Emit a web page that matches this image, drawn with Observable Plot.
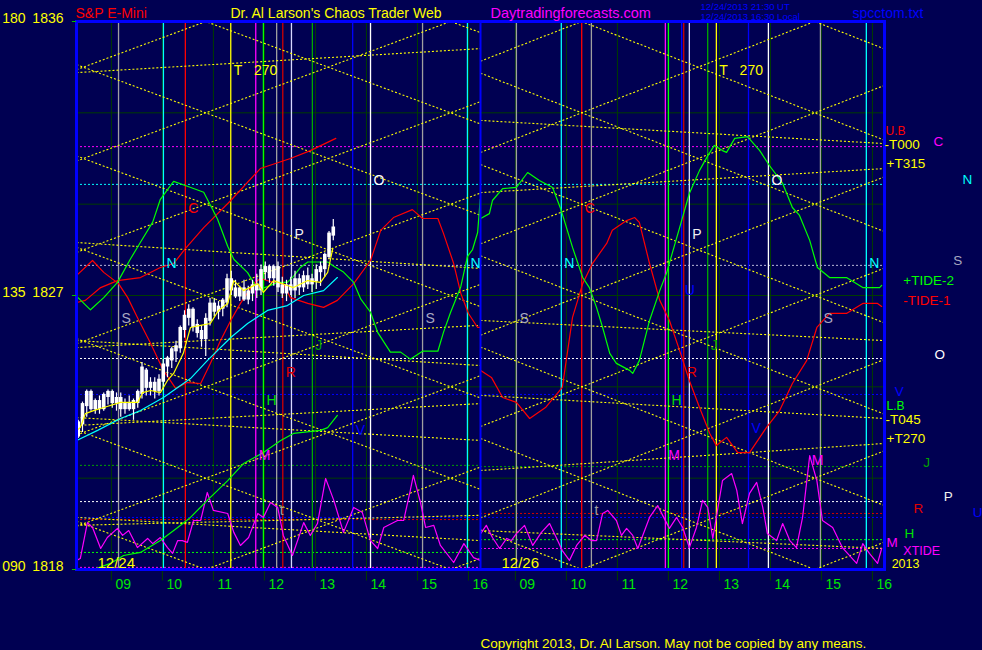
<!DOCTYPE html>
<html><head><meta charset="utf-8">
<script src="https://cdn.jsdelivr.net/npm/d3@7"></script>
<script src="https://cdn.jsdelivr.net/npm/@observablehq/plot@0.6"></script>
<style>html,body{margin:0;padding:0;background:#000052;overflow:hidden}</style>
</head><body><div id="chart"></div>
<script>
// ---------- DATA ----------
const dayNames = ["12/24", "12/26"];
const DAY_START = 8.316, DAY_LEN = 7.92;
const hourTicks = [9, 10, 11, 12, 13, 14, 15, 16];
const hourTickLabels = ["09", "10", "11", "12", "13", "14", "15", "16"];
const priceGrid = [1821, 1824, 1827, 1830, 1833];
const yTickPrices = [1818, 1827, 1836];
const yTickDegrees = ["090", "135", "180"];

// planetary time lines: [day, hour, name]
const verticals = [
  [0, 9.14, "S"], [0, 10.02, "N"], [0, 10.45, "C"], [0, 11.34, "T"], [0, 11.83, "M"],
  [0, 11.98, "H"], [0, 12.24, "t"], [0, 12.36, "R"], [0, 12.53, "P"], [0, 12.94, "J"],
  [0, 13.73, "V"], [0, 14.08, "O"], [0, 15.10, "S"], [0, 15.98, "N"],
  [1, 9.02, "S"], [1, 9.90, "N"], [1, 10.30, "C"], [1, 10.49, "t"], [1, 11.94, "M"],
  [1, 12.00, "H"], [1, 12.26, "U"], [1, 12.30, "R"], [1, 12.41, "P"], [1, 12.77, "J"],
  [1, 12.94, "T"], [1, 13.57, "V"], [1, 13.96, "O"], [1, 14.98, "S"], [1, 15.88, "N"]
];
// letters beside the time lines: [day, hour, price, text]
const vLabels = [
  [0, 9.14, 1826.24, "S"], [0, 10.02, 1828.05, "N"], [0, 10.45, 1829.86, "C"],
  [0, 11.34, 1834.39, "T\u00a0\u00a0\u00a0270"], [0, 11.83, 1821.74, "M"], [0, 11.98, 1823.55, "H"],
  [0, 12.24, 1819.94, "t"], [0, 12.36, 1824.47, "R"], [0, 12.53, 1829.0, "P"], [0, 12.94, 1825.36, "J"],
  [0, 13.73, 1822.57, "V"], [0, 14.08, 1830.78, "O"], [0, 15.10, 1826.24, "S"], [0, 15.98, 1828.05, "N"],
  [1, 9.02, 1826.24, "S"], [1, 9.90, 1828.05, "N"], [1, 10.30, 1829.86, "C"], [1, 10.49, 1819.94, "t"],
  [1, 11.94, 1821.74, "M"], [1, 12.00, 1823.55, "H"], [1, 12.26, 1827.16, "U"], [1, 12.30, 1824.47, "R"],
  [1, 12.41, 1829.0, "P"], [1, 12.77, 1825.36, "J"], [1, 12.94, 1834.39, "T\u00a0\u00a0\u00a0270"],
  [1, 13.57, 1822.63, "V"], [1, 13.96, 1830.78, "O"], [1, 14.75, 1821.58, "M"], [1, 14.98, 1826.24, "S"],
  [1, 15.88, 1828.05, "N"]
];
// horizontal planet price levels: [day, price, name]
const levels = [
  [0, 1831.89, "C"], [1, 1831.89, "C"], [0, 1830.65, "N"], [1, 1830.65, "N"],
  [0, 1827.99, "S"], [1, 1827.99, "S"], [0, 1824.93, "O"], [1, 1824.93, "O"],
  [0, 1823.75, "V"], [1, 1823.75, "V"], [0, 1821.42, "J"], [1, 1821.38, "J"],
  [0, 1820.23, "P"], [1, 1820.23, "P"], [0, 1819.64, "R"], [1, 1819.84, "R"],
  [0, 1819.71, "U"], [1, 1819.71, "U"], [0, 1818.56, "H"], [1, 1818.98, "H"],
  [0, 1818.07, "M"], [1, 1818.69, "M"]
];
// time-price lattice: anchor hour per day, rate in points/hour, levels every 3 points
const latticeAnchors = [[0, 10.85, 0.625], [1, 10.30, 0.657]];
const latticeLevels = [1848, 1845, 1842, 1839, 1836, 1833, 1830, 1827, 1824, 1821, 1818, 1815, 1812, 1809, 1806];
// shallow T lines: [day, price at day start, price at day end]
const tLines = [
  [0, 1834.32, 1835.11], [0, 1828.74, 1827.89], [0, 1825.29, 1826.02], [0, 1825.52, 1824.70],
  [0, 1822.99, 1822.24], [0, 1822.73, 1823.45], [0, 1819.71, 1818.95], [0, 1819.45, 1819.78],
  [1, 1832.75, 1831.99], [1, 1830.38, 1831.17], [1, 1826.18, 1825.52], [1, 1823.72, 1822.96],
  [1, 1821.25, 1822.14], [1, 1819.28, 1818.69]
];

// TIDE-1 (red)
const tide1Next = [[8.32,1826.77],[8.49,1826.84],[8.79,1827.26],[9.12,1827.49],[9.57,1827.59],[9.96,1827.92],[10.22,1828.05],[10.45,1828.54],[10.81,1829.23],[11.34,1830.12],[11.92,1831.17],[12.51,1831.50],[12.90,1831.76],[13.40,1832.16]];
const tide1Day1 = [[8.32,1827.66],[8.63,1828.15],[8.85,1827.76],[9.14,1827.39],[9.32,1826.93],[9.51,1826.28],[9.77,1825.42],[10.02,1824.54],[10.26,1823.95],[10.49,1824.14],[10.75,1824.11],[10.94,1824.77],[11.14,1825.52],[11.34,1826.18],[11.53,1826.74],[11.79,1827.39],[11.92,1827.56],[12.18,1827.43],[12.37,1827.39],[12.51,1826.93],[12.85,1826.74],[13.16,1826.61],[13.43,1826.84],[13.75,1827.39],[14.08,1828.15],[14.28,1829.14],[14.53,1829.56],[14.90,1829.82],[15.10,1829.53],[15.40,1829.53],[15.51,1829.04],[15.71,1828.05],[15.85,1827.07],[16.00,1826.41],[16.18,1825.95],[16.23,1825.95]];
const tide1Day2 = [[8.32,1824.54],[8.53,1824.31],[8.75,1823.65],[9.02,1823.49],[9.28,1822.96],[9.59,1823.32],[9.92,1823.98],[10.12,1826.28],[10.32,1827.39],[10.51,1828.05],[10.79,1828.71],[10.90,1829.14],[11.18,1829.46],[11.34,1829.56],[11.43,1829.40],[11.63,1828.05],[11.83,1826.84],[12.02,1826.18],[12.22,1825.19],[12.41,1824.21],[12.61,1823.32],[12.81,1822.47],[12.94,1822.07],[13.14,1822.34],[13.36,1821.84],[13.59,1821.84],[13.92,1822.66],[14.18,1823.22],[14.43,1824.11],[14.71,1824.86],[14.91,1825.95],[15.16,1826.41],[15.49,1826.41],[15.81,1826.74],[16.10,1826.74],[16.18,1826.64]];
// TIDE-2 (green)
const tide2Day1 = [[8.32,1826.97],[8.59,1826.53],[8.85,1826.93],[9.12,1827.43],[9.37,1828.19],[9.57,1828.75],[9.81,1829.41],[9.96,1830.16],[10.22,1830.75],[10.49,1830.59],[10.81,1830.39],[11.08,1829.51],[11.28,1828.62],[11.40,1828.19],[11.67,1827.75],[11.87,1827.19],[12.06,1827.29],[12.26,1827.43],[12.45,1827.43],[12.57,1827.63],[12.71,1827.93],[12.85,1828.10],[13.04,1828.10],[13.24,1828.10],[13.36,1827.96],[13.55,1827.77],[13.75,1827.43],[13.89,1826.88],[14.08,1826.45],[14.22,1825.79],[14.47,1825.14],[14.67,1825.14],[14.86,1824.91],[15.10,1825.17],[15.40,1825.17],[15.51,1825.79],[15.65,1826.45],[15.85,1827.29],[15.98,1828.28],[16.08,1828.51],[16.18,1829.07],[16.23,1830.16]];
const tide2Day2 = [[8.32,1829.53],[8.49,1829.69],[8.55,1830.12],[8.75,1830.51],[9.02,1830.55],[9.24,1831.04],[9.47,1830.78],[9.73,1830.55],[9.90,1829.79],[10.12,1828.58],[10.32,1827.59],[10.45,1827.26],[10.59,1826.61],[10.71,1825.95],[10.85,1825.10],[10.98,1824.77],[11.24,1824.54],[11.30,1824.44],[11.43,1824.86],[11.63,1826.18],[11.83,1827.16],[11.96,1827.72],[12.22,1829.23],[12.41,1830.35],[12.61,1831.11],[12.75,1831.53],[12.90,1831.93],[13.06,1831.76],[13.14,1831.70],[13.30,1832.16],[13.55,1832.22],[13.79,1831.76],[13.98,1831.27],[14.24,1830.68],[14.43,1829.89],[14.57,1829.63],[14.77,1828.81],[14.92,1827.92],[15.16,1827.59],[15.49,1827.59],[15.81,1827.26],[16.14,1827.26],[16.18,1827.33]];
const lowGreenDay1 = [[8.65,1818.0],[8.98,1818.20],[9.24,1818.46],[9.57,1818.56],[9.96,1818.95],[10.30,1819.38],[10.55,1819.71],[10.88,1820.27],[11.28,1820.92],[11.59,1821.48],[11.98,1821.84],[12.32,1822.24],[12.57,1822.47],[13.10,1822.57],[13.24,1822.66],[13.43,1823.06]];
const cyanAvgDay1 = [[8.32,1822.24],[8.73,1822.57],[9.18,1822.96],[9.57,1823.22],[10.02,1823.65],[10.30,1823.98],[10.55,1824.27],[10.88,1824.86],[11.34,1825.62],[11.67,1826.08],[12.06,1826.51],[12.45,1826.67],[12.77,1827.00],[13.16,1827.16],[13.43,1827.59]];
const yellowAvgDay1 = [[8.32,1822.57],[8.39,1822.66],[8.49,1823.12],[8.65,1823.22],[8.85,1823.32],[9.18,1823.49],[9.52,1823.49],[9.61,1823.81],[9.77,1823.88],[9.96,1823.81],[10.10,1824.21],[10.22,1824.44],[10.41,1825.10],[10.55,1825.95],[10.75,1826.02],[10.94,1826.08],[11.10,1826.51],[11.28,1826.74],[11.40,1827.49],[11.59,1827.16],[11.87,1827.39],[11.98,1827.10],[12.18,1827.49],[12.45,1827.33],[12.57,1827.26],[12.85,1827.49],[13.10,1827.43],[13.24,1827.76],[13.34,1828.54]];
// XTIDE (magenta)
const xtideDay1 = [[8.32,1818.30],[8.39,1818.36],[8.53,1819.54],[8.63,1819.38],[8.79,1818.69],[8.92,1819.05],[9.12,1819.35],[9.22,1819.12],[9.34,1819.28],[9.51,1818.72],[9.71,1819.02],[9.81,1818.85],[9.96,1819.05],[10.10,1818.72],[10.20,1818.53],[10.30,1818.95],[10.39,1818.95],[10.49,1818.89],[10.61,1819.61],[10.75,1819.61],[10.88,1820.53],[11.00,1819.94],[11.28,1819.84],[11.40,1819.22],[11.53,1818.79],[11.69,1819.05],[11.87,1819.84],[11.98,1819.71],[12.12,1820.20],[12.26,1820.04],[12.37,1819.12],[12.55,1818.46],[12.77,1819.54],[12.90,1819.12],[13.04,1819.51],[13.20,1820.99],[13.36,1820.27],[13.55,1819.22],[13.75,1820.04],[13.92,1819.87],[14.08,1818.95],[14.22,1818.69],[14.34,1819.38],[14.61,1819.61],[14.73,1819.61],[14.86,1820.60],[14.92,1821.09],[15.06,1820.20],[15.16,1819.38],[15.32,1819.45],[15.45,1818.79],[15.71,1818.23],[15.91,1818.85],[16.10,1818.39],[16.23,1818.30]];
const xtideDay2 = [[8.32,1819.18],[8.43,1819.45],[8.55,1819.05],[8.69,1818.69],[8.83,1819.02],[8.92,1818.95],[9.02,1819.18],[9.18,1819.45],[9.34,1818.79],[9.51,1819.22],[9.67,1819.51],[9.81,1819.02],[9.92,1818.62],[10.06,1818.30],[10.20,1818.79],[10.36,1819.12],[10.49,1818.95],[10.59,1818.95],[10.71,1819.84],[10.81,1819.94],[10.98,1819.61],[11.08,1819.12],[11.18,1819.35],[11.30,1819.12],[11.40,1818.69],[11.63,1819.71],[11.79,1820.10],[11.89,1819.77],[12.02,1819.35],[12.16,1819.71],[12.28,1819.38],[12.41,1818.72],[12.55,1819.38],[12.67,1820.27],[12.77,1820.04],[12.87,1819.02],[13.06,1820.92],[13.24,1821.15],[13.34,1820.60],[13.45,1819.51],[13.59,1820.50],[13.73,1820.86],[13.85,1820.04],[13.94,1819.18],[14.12,1818.95],[14.24,1819.51],[14.38,1818.95],[14.51,1818.72],[14.63,1819.71],[14.77,1821.74],[14.91,1820.92],[15.02,1819.61],[15.22,1819.38],[15.41,1818.72],[15.69,1818.20],[15.81,1818.85],[15.94,1818.53],[16.10,1818.20],[16.18,1818.69]];

// S&P E-mini 5-minute bars on 12/24
const barFirstHour = 8.35;
const barOpen  = [1822.4,1822.8,1823.4,1823.8,1823.3,1823.5,1823.3,1823.7,1823.8,1823.5,1823.6,1823.3,1823.4,1823.3,1823.5,1823.8,1824.5,1824.0,1824.1,1823.9,1824.2,1824.7,1824.9,1825.2,1825.3,1825.9,1826.3,1826.5,1826.0,1825.8,1825.6,1826.2,1826.7,1826.5,1826.6,1826.8,1827.5,1827.2,1827.0,1827.2,1826.9,1827.1,1827.3,1827.2,1827.8,1827.9,1827.6,1827.9,1827.3,1827.1,1827.3,1827.2,1827.5,1827.3,1827.6,1827.4,1827.5,1827.8,1827.9,1828.3,1829.0];
const barClose = [1822.8,1823.4,1823.8,1823.3,1823.5,1823.3,1823.7,1823.8,1823.5,1823.6,1823.3,1823.4,1823.3,1823.5,1823.8,1824.6,1824.0,1824.1,1823.9,1824.2,1824.7,1824.9,1825.2,1825.3,1825.9,1826.3,1826.5,1826.0,1825.8,1825.6,1826.2,1826.7,1826.5,1826.6,1826.8,1827.5,1827.2,1827.0,1827.2,1826.9,1827.1,1827.3,1827.2,1827.8,1827.9,1827.6,1827.9,1827.3,1827.1,1827.3,1827.2,1827.5,1827.3,1827.6,1827.4,1827.5,1827.8,1827.9,1828.3,1829.0,1829.2];
const barHigh  = [1822.9,1823.5,1823.9,1823.9,1823.6,1823.7,1823.8,1823.9,1823.9,1823.8,1823.8,1823.6,1823.7,1823.6,1823.9,1824.8,1824.6,1824.3,1824.3,1824.4,1824.9,1825.0,1825.3,1825.5,1826.0,1826.5,1826.7,1826.6,1826.2,1826.0,1826.4,1826.9,1826.9,1826.8,1826.9,1827.7,1827.8,1827.5,1827.3,1827.5,1827.3,1827.5,1827.7,1828.0,1828.1,1828.0,1828.0,1828.1,1827.6,1827.5,1827.6,1827.8,1827.7,1827.8,1827.9,1827.7,1828.0,1828.1,1828.4,1829.1,1829.5];
const barLow   = [1822.3,1822.5,1823.0,1823.2,1823.1,1823.1,1823.2,1823.4,1823.3,1823.2,1823.0,1823.1,1823.2,1822.9,1823.3,1823.6,1823.7,1823.7,1823.6,1823.7,1823.9,1824.3,1824.6,1824.8,1825.1,1825.6,1826.0,1825.8,1825.6,1825.3,1825.0,1826.0,1826.3,1826.2,1826.3,1826.6,1827.0,1826.9,1826.8,1826.8,1826.7,1826.8,1826.9,1827.0,1827.5,1827.4,1827.3,1827.1,1826.9,1826.8,1827.0,1826.9,1827.0,1827.1,1827.2,1827.1,1827.2,1827.3,1827.6,1828.2,1828.8];

// right-hand legend: [text, price, hours beyond right edge]
const rightLabels = [
  ["U.B", 1832.40, 0.02], ["-T000", 1831.97, 0.0], ["C", 1832.06, 0.96], ["+T315", 1831.34, 0.04],
  ["N", 1830.81, 1.53], ["S", 1828.15, 1.35], ["+TIDE-2", 1827.49, 0.37], ["-TIDE-1", 1826.84, 0.37],
  ["O", 1825.06, 0.98], ["V", 1823.85, 0.2], ["L.B", 1823.36, 0.04], ["-T045", 1822.93, 0.02],
  ["+T270", 1822.30, 0.04], ["J", 1821.51, 0.76], ["P", 1820.40, 1.16], ["R", 1820.00, 0.57],
  ["U", 1819.87, 1.73], ["H", 1819.18, 0.39], ["M", 1818.89, 0.04], ["XTIDE", 1818.60, 0.37],
  ["2013", 1818.17, 0.14]
];

// ---------- STYLES ----------
const BG = "#000052";
const FONT = "'Liberation Sans', Arial, 'DejaVu Sans', sans-serif";
const GRID = "#003c00";
const YEL = "#ffff00", MAG = "#ff00ff", CYN = "#00ffff", GRN = "#00ff00", RED = "#ff0000", BLU = "#0000ff";
const vertColor = {S:"#a0a0a0", N:CYN, C:RED, T:YEL, M:MAG, H:GRN, t:"#a0a0a0", R:"#d00000", P:"#d8d8ff", J:"#00a800", V:BLU, O:"#ffffff", U:BLU};
const letterColor = {S:"#a8a8c0", N:CYN, C:RED, T:YEL, M:MAG, H:"#00e000", t:"#a0a0a0", R:"#e00000", P:"#f0f0f0", J:"#00a000", V:BLU, O:"#ffffff", U:BLU};
const levelColor = {C:MAG, N:CYN, S:"#b8b8d8", O:"#ffffff", V:BLU, J:"#00a000", P:"#ffffff", R:"#d00000", U:BLU, H:GRN, M:MAG};
const rightColor = {"U.B":RED, "-T000":YEL, "C":MAG, "+T315":YEL, "N":CYN, "S":"#a8a8c0", "+TIDE-2":GRN, "-TIDE-1":RED,
  "O":"#ffffff", "V":BLU, "L.B":GRN, "-T045":YEL, "+T270":YEL, "J":"#00a000", "P":"#f0f0f0", "R":"#e00000",
  "U":BLU, "H":"#00e000", "M":MAG, "XTIDE":MAG, "2013":YEL};
const rightSize = {"U.B":12, "L.B":12, "XTIDE":12.5, "2013":12.5};

// ---------- BUILD ----------
const T = (day, h) => day * DAY_LEN + (h - DAY_START);
const DAY_END = DAY_START + DAY_LEN;

const hourGrid = [];
for (const d of [0, 1]) hourTicks.forEach((h, i) => hourGrid.push({day: d, h, label: hourTickLabels[i]}));

const lattice = [];
for (const [day, ha, rate] of latticeAnchors)
  for (const L of latticeLevels)
    for (const s of [1, -1])
      lattice.push({x1: T(day, DAY_START), y1: L + s * rate * (DAY_START - ha),
                    x2: T(day, DAY_END), y2: L + s * rate * (DAY_END - ha)});

const bars = barOpen.map((o, i) => ({h: barFirstHour + i / 12, o, c: barClose[i], hi: barHigh[i], lo: barLow[i]}));

const curve = (day, pts, color, w = 1.2) =>
  Plot.line(pts, {x: d => T(day, d[0]), y: d => d[1], stroke: color, strokeWidth: w, clip: true});

const marks = [
  Plot.ruleY(priceGrid, {stroke: GRID, strokeWidth: 1}),
  Plot.ruleX(hourGrid, {x: d => T(d.day, d.h), y1: 1817.62, y2: 1836, stroke: GRID, strokeWidth: 1}),
  Plot.ruleY(levels, {y: d => d[1], x1: d => T(d[0], DAY_START), x2: d => T(d[0], DAY_END),
    stroke: d => levelColor[d[2]], strokeWidth: 1, strokeDasharray: "2,2"}),
  Plot.ruleX(verticals, {x: d => T(d[0], d[1]), stroke: d => vertColor[d[2]], strokeWidth: 1.3}),
  Plot.link(lattice, {x1: "x1", y1: "y1", x2: "x2", y2: "y2", stroke: YEL, strokeWidth: 1.1, strokeDasharray: "2,2", clip: true}),
  Plot.link(tLines, {x1: d => T(d[0], DAY_START), y1: d => d[1], x2: d => T(d[0], DAY_END), y2: d => d[2],
    stroke: YEL, strokeWidth: 1.1, strokeDasharray: "2,2", clip: true}),
  curve(0, xtideDay1, MAG), curve(1, xtideDay2, MAG),
  curve(0, lowGreenDay1, GRN),
  curve(0, tide1Next, RED), curve(0, tide1Day1, RED), curve(1, tide1Day2, RED),
  curve(0, tide2Day1, GRN), curve(1, tide2Day2, GRN),
  curve(0, cyanAvgDay1, CYN),
  Plot.ruleX(bars, {x: d => T(0, d.h), y1: "lo", y2: "hi", stroke: "#ffffff", strokeWidth: 1.2}),
  Plot.ruleX(bars, {x: d => T(0, d.h), y1: d => Math.min(d.o, d.c) - 0.05, y2: d => Math.max(d.o, d.c) + 0.05, stroke: "#ffffff", strokeWidth: 3.6}),
  curve(0, yellowAvgDay1, YEL),
  Plot.ruleX([T(1, DAY_START)], {stroke: BLU, strokeWidth: 2}),
  Plot.frame({stroke: BLU, strokeWidth: 3}),
  Plot.ruleY(yTickPrices, {x1: -0.08, x2: 0, stroke: "#00c000"}),
  // left axis labels
  Plot.text(yTickPrices, {y: d => d, text: d => String(d), frameAnchor: "left", dx: -13, dy: 1, textAnchor: "end", lineAnchor: "bottom", fill: YEL, fontSize: 14}),
  Plot.text(yTickPrices, {y: d => d, text: (d, i) => yTickDegrees[i], frameAnchor: "left", dx: -51, dy: 1, textAnchor: "end", lineAnchor: "bottom", fill: YEL, fontSize: 14}),
  // hour labels
  Plot.text(hourGrid, {x: d => T(d.day, d.h), text: "label", frameAnchor: "bottom", dx: 4, dy: 19, textAnchor: "start", lineAnchor: "bottom", fill: "#00e800", fontSize: 14}),
  // day labels
  Plot.text(dayNames, {x: (d, i) => T(i, DAY_START), text: d => d, frameAnchor: "bottom", dx: 21, dy: -2, textAnchor: "start", lineAnchor: "bottom", fill: YEL, fontSize: 15}),
  // letters at time lines
  Plot.text(vLabels, {x: d => T(d[0], d[1]), y: d => d[2], text: d => d[3], dx: 3, textAnchor: "start", lineAnchor: "middle",
    fill: d => letterColor[d[3][0]], fontSize: 14}),
  // right legend
  Plot.text(rightLabels, {x: d => 2 * DAY_LEN + d[2], y: d => d[1], text: d => d[0], textAnchor: "start", lineAnchor: "middle",
    fill: d => rightColor[d[0]], fontSize: d => rightSize[d[0]] || 13.5}),
  // header
  Plot.text(["S&P E-Mini"], {text: d => d, frameAnchor: "top-left", dx: -1, dy: -4, textAnchor: "start", lineAnchor: "bottom", fill: RED, fontSize: 14}),
  Plot.text(["Dr. Al Larson's Chaos Trader Web"], {text: d => d, frameAnchor: "top-left", dx: 154, dy: -4, textAnchor: "start", lineAnchor: "bottom", fill: YEL, fontSize: 14}),
  Plot.text(["Daytradingforecasts.com"], {text: d => d, frameAnchor: "top-left", dx: 414, dy: -4, textAnchor: "start", lineAnchor: "bottom", fill: MAG, fontSize: 14.5}),
  Plot.text(["12/24/2013 21:30 UT"], {text: d => d, frameAnchor: "top-left", dx: 624, dy: -12, textAnchor: "start", lineAnchor: "bottom", fill: BLU, fontSize: 9.5}),
  Plot.text(["12/24/2013 16:30 Local"], {text: d => d, frameAnchor: "top-left", dx: 624, dy: -2, textAnchor: "start", lineAnchor: "bottom", fill: BLU, fontSize: 9.5}),
  Plot.text(["spcctom.txt"], {text: d => d, frameAnchor: "top-left", dx: 776, dy: -4, textAnchor: "start", lineAnchor: "bottom", fill: BLU, fontSize: 14}),
  Plot.text(["Copyright 2013, Dr. Al Larson. May not be copied by any means."], {text: d => d, x: T(1, DAY_START), frameAnchor: "bottom", dy: 78, textAnchor: "start", lineAnchor: "bottom", fill: YEL, fontSize: 13.5})
];

const chart = Plot.plot({
  width: 982, height: 650,
  marginLeft: 76, marginRight: 98, marginTop: 21, marginBottom: 81,
  x: {domain: [0, 2 * DAY_LEN], axis: null},
  y: {domain: [1818, 1836], axis: null},
  style: {background: BG, fontFamily: FONT, fontSize: "14px", overflow: "visible"},
  marks
});
document.getElementById("chart").append(chart);
</script></body></html>
